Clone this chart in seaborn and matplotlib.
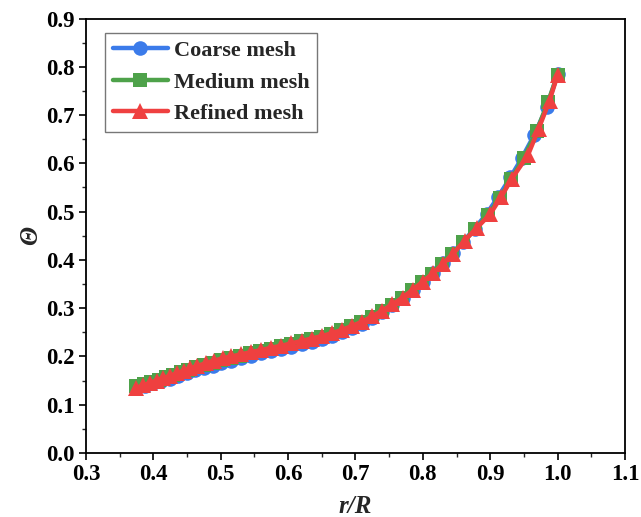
import matplotlib
matplotlib.use("Agg")
import matplotlib.pyplot as plt
import seaborn as sns
import pandas as pd
from matplotlib.ticker import MultipleLocator

sns.set_theme(style="ticks")
plt.rcParams['font.family'] = ['Liberation Serif', 'DejaVu Serif']

coarse_x = [0.375, 0.388, 0.400, 0.412, 0.425, 0.437, 0.450, 0.462, 0.475, 0.488, 0.500,
            0.515, 0.530, 0.545, 0.560, 0.575, 0.590, 0.605, 0.620, 0.635, 0.650, 0.665,
            0.680, 0.695, 0.710, 0.725, 0.740, 0.755, 0.770, 0.785, 0.800, 0.815, 0.830,
            0.845, 0.860, 0.877, 0.895, 0.912, 0.930, 0.947, 0.965, 0.984, 1.000]
coarse_y = [0.134, 0.139, 0.144, 0.149, 0.154, 0.160, 0.165, 0.171, 0.176, 0.181, 0.186,
            0.191, 0.196, 0.201, 0.206, 0.211, 0.216, 0.220, 0.225, 0.230, 0.236, 0.242,
            0.250, 0.258, 0.268, 0.280, 0.292, 0.306, 0.321, 0.337, 0.355, 0.373, 0.393,
            0.415, 0.438, 0.465, 0.496, 0.531, 0.571, 0.611, 0.658, 0.716, 0.785]

medium_x = [0.375, 0.386, 0.397, 0.408, 0.419, 0.430, 0.441, 0.452, 0.463, 0.475, 0.488,
            0.501, 0.515, 0.529, 0.544, 0.559, 0.574, 0.589, 0.604, 0.619, 0.634, 0.649,
            0.664, 0.679, 0.694, 0.709, 0.724, 0.739, 0.754, 0.769, 0.784, 0.799, 0.814,
            0.829, 0.844, 0.860, 0.878, 0.897, 0.914, 0.931, 0.950, 0.969, 0.986, 1.000]
medium_y = [0.138, 0.142, 0.147, 0.152, 0.157, 0.162, 0.167, 0.172, 0.177, 0.182, 0.187,
            0.192, 0.197, 0.201, 0.206, 0.211, 0.216, 0.221, 0.226, 0.231, 0.236, 0.241,
            0.247, 0.254, 0.262, 0.271, 0.282, 0.294, 0.307, 0.321, 0.337, 0.354, 0.371,
            0.391, 0.412, 0.437, 0.464, 0.494, 0.528, 0.567, 0.612, 0.667, 0.728, 0.784]

refined_x = [0.375, 0.385, 0.395, 0.405, 0.415, 0.425, 0.435, 0.445, 0.455, 0.465, 0.478,
             0.490, 0.503, 0.516, 0.530, 0.545, 0.560, 0.575, 0.590, 0.605, 0.620, 0.635,
             0.650, 0.665, 0.680, 0.695, 0.710, 0.725, 0.740, 0.755, 0.770, 0.785, 0.800,
             0.815, 0.830, 0.845, 0.862, 0.880, 0.900, 0.916, 0.932, 0.956, 0.972, 0.988, 1.000]
refined_y = [0.135, 0.140, 0.145, 0.150, 0.155, 0.160, 0.165, 0.170, 0.175, 0.180, 0.186,
             0.191, 0.196, 0.200, 0.204, 0.209, 0.213, 0.218, 0.222, 0.227, 0.232, 0.237,
             0.242, 0.248, 0.255, 0.263, 0.272, 0.283, 0.295, 0.308, 0.322, 0.338, 0.355,
             0.372, 0.392, 0.413, 0.440, 0.466, 0.495, 0.530, 0.568, 0.617, 0.672, 0.730, 0.783]

labels = ["Coarse mesh", "Medium mesh", "Refined mesh"]
colors = ["#3B7BEA", "#4EA24A", "#EF4040"]
markers = ["o", "s", "^"]
sizes = [10.5, 9.5, 12]

fig = plt.figure(figsize=(6.41, 5.17), dpi=100)
ax = fig.add_axes([0.134, 0.124, 0.841, 0.840])

series = [(coarse_x, coarse_y), (medium_x, medium_y), (refined_x, refined_y)]
for (xs, ys), lab, c, m, s in zip(series, labels, colors, markers, sizes):
    df = pd.DataFrame({"x": xs, "y": ys})
    sns.lineplot(data=df, x="x", y="y", ax=ax, color=c, marker=m, markersize=s,
                 markeredgewidth=0, linewidth=3.2, label=lab, estimator=None, sort=False)

ax.set_xlim(0.3, 1.1)
ax.set_ylim(0.0, 0.9)
ax.xaxis.set_major_locator(MultipleLocator(0.1))
ax.xaxis.set_minor_locator(MultipleLocator(0.05))
ax.yaxis.set_major_locator(MultipleLocator(0.1))
ax.yaxis.set_minor_locator(MultipleLocator(0.05))
ax.xaxis.set_major_formatter(plt.FormatStrFormatter('%.1f'))
ax.yaxis.set_major_formatter(plt.FormatStrFormatter('%.1f'))
ax.tick_params(which='major', direction='out', length=5, width=1.2, labelsize=16.5,
               colors='black', top=False, right=False, pad=3)
ax.tick_params(which='minor', direction='out', length=3, width=1.0, top=False, right=False)
for lbl in ax.get_xticklabels() + ax.get_yticklabels():
    lbl.set_fontweight('bold')
for sp in ax.spines.values():
    sp.set_visible(True)
    sp.set_color('black')
    sp.set_linewidth(1.3)

ax.set_xlabel("r/R", fontsize=18, fontweight='bold', style='italic', labelpad=7)
ax.set_ylabel("Θ", fontsize=18, fontweight='bold', style='italic', labelpad=3)

leg = ax.legend(loc='upper left', bbox_to_anchor=(0.035, 0.968), frameon=True,
                fancybox=False, edgecolor='#555555', handlelength=2.5,
                handletextpad=0.25, borderpad=0.35, labelspacing=0.5,
                borderaxespad=0,
                prop={'family': 'Liberation Serif', 'weight': 'bold', 'size': 16})
leg.get_frame().set_linewidth(1.0)

fig.savefig("out.png", dpi=100)
